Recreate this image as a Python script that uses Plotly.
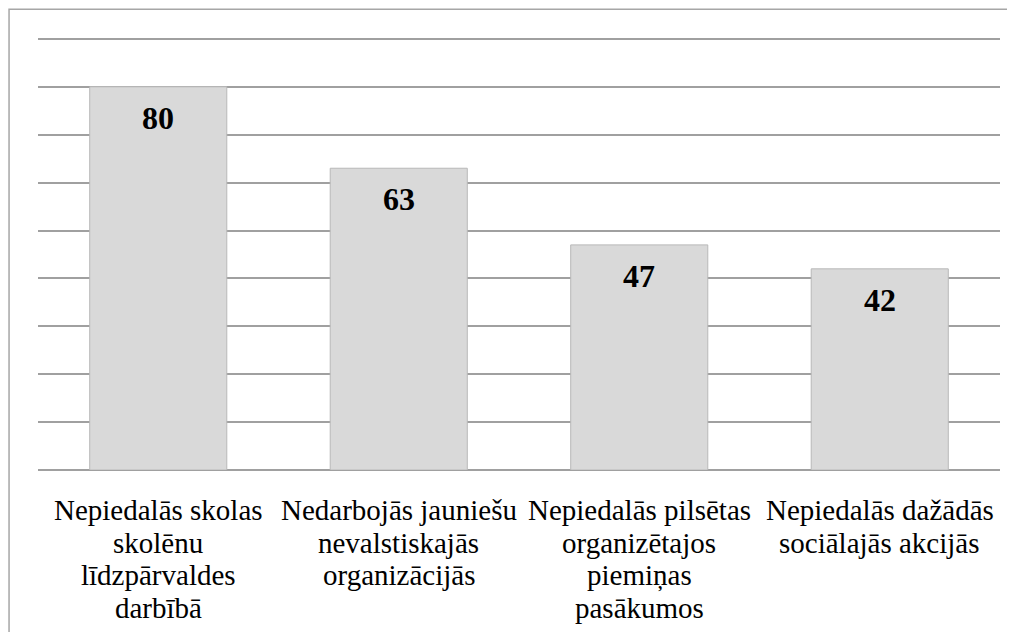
import plotly.graph_objects as go

categories = [
    "Nepiedalās skolas skolēnu līdzpārvaldes darbībā",
    "Nedarbojās jauniešu nevalstiskajās organizācijās",
    "Nepiedalās pilsētas organizētajos piemiņas pasākumos",
    "Nepiedalās dažādās sociālajās akcijās",
]
label_lines = [
    ["Nepiedalās skolas", "skolēnu", "līdzpārvaldes", "darbībā"],
    ["Nedarbojās jauniešu", "nevalstiskajās", "organizācijās"],
    ["Nepiedalās pilsētas", "organizētajos", "piemiņas", "pasākumos"],
    ["Nepiedalās dažādās", "sociālajās akcijās"],
]
values = [80, 63, 47, 42]

SERIF = "'Liberation Serif', 'Times New Roman', 'DejaVu Serif', serif"

fig = go.Figure()
fig.add_trace(go.Bar(
    x=categories, y=values,
    marker=dict(color="#d9d9d9", line=dict(color="#b8b8b8", width=1)),
    width=0.57, hoverinfo="skip",
))

# value labels inside the top of each bar
for cat, v in zip(categories, values):
    fig.add_annotation(x=cat, y=v, yshift=-31, text=f"<b>{v}</b>", showarrow=False,
                       font=dict(family=SERIF, size=32, color="black"), yanchor="middle")

# category labels with tight line spacing
for cat, lines in zip(categories, label_lines):
    for i, line in enumerate(lines):
        fig.add_annotation(x=cat, y=0, yshift=-40 - i * 32.5, text=line, showarrow=False,
                           font=dict(family=SERIF, size=29, color="black"),
                           yanchor="middle", xanchor="center")

# outer chart border
fig.add_shape(type="rect", xref="paper", yref="paper",
              x0=-0.0301, x1=1.03, y0=-0.45, y1=1.064,
              line=dict(color="#a6a6a6", width=1.5), layer="below")

fig.update_layout(
    width=1007, height=624,
    margin=dict(l=30, r=15, t=29, b=162),
    plot_bgcolor="white", paper_bgcolor="white",
    showlegend=False,
    font=dict(family=SERIF),
    xaxis=dict(showticklabels=False, showgrid=False, showline=False, zeroline=False),
    yaxis=dict(range=[0, 90.4], tickvals=list(range(0, 100, 10)), showticklabels=False,
               showgrid=True, gridcolor="#a0a0a0", gridwidth=1.5, zeroline=True,
               zerolinecolor="#a0a0a0", zerolinewidth=1.5, showline=False),
)

fig.write_html("out.html")
